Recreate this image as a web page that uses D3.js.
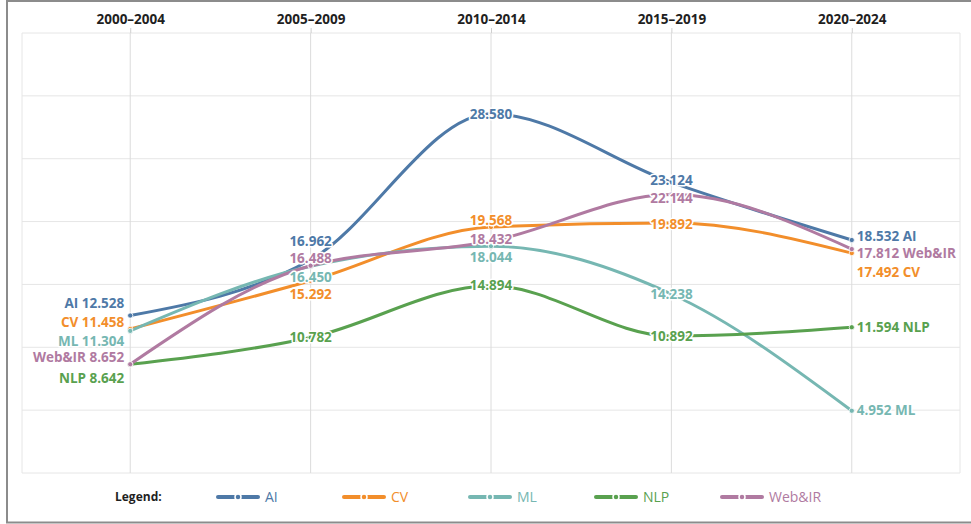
<!DOCTYPE html>
<html>
<head>
<meta charset="utf-8">
<script src="https://cdn.jsdelivr.net/npm/d3@7"></script>
<style>
  html, body { margin: 0; padding: 0; background: #fff; }
  svg { display: block; font-family: "Open Sans", "Noto Sans", sans-serif; }
</style>
</head>
<body>
<svg id="chart" width="971" height="524"></svg>
<script>
// ---- data ----
const periods = ["2000–2004", "2005–2009", "2010–2014", "2015–2019", "2020–2024"];
const seriesNames = ["AI", "CV", "ML", "NLP", "Web&IR"];
const aiValues    = [12.528, 16.962, 28.580, 23.124, 18.532];
const cvValues    = [11.458, 15.292, 19.568, 19.892, 17.492];
const mlValues    = [11.304, 16.450, 18.044, 14.238, 4.952];
const nlpValues   = [8.642, 10.782, 14.894, 10.892, 11.594];
const webirValues = [8.652, 16.488, 18.432, 22.144, 17.812];
const yTicks = [0, 5, 10, 15, 20, 25, 30, 35];

// ---- styling / label placement (not data) ----
const colors = ["#4e79a7", "#f28e2b", "#76b7b2", "#59a14f", "#b07aa1"];
// vertical offsets of value labels (px) per series per period
const labelDy = [
  [-12, -18, 1, -2, -4],
  [-7, 14, -7, 1, 19],
  [10, 11, 11, 0, 0],
  [14, 0, 0, 0, 0],
  [-7, -7, -2, 4, 4]
];

const seriesValues = [aiValues, cvValues, mlValues, nlpValues, webirValues];
const series = seriesNames.map((name, i) => ({
  name, color: colors[i], values: seriesValues[i], dy: labelDy[i]
}));

const svg = d3.select("#chart");
const W = 971, H = 524;
const plot = { left: 22, right: 960, top: 33, bottom: 473 };

// outer frame
svg.append("path")
  .attr("d", `M${W},1 H7 V${H - 1.5} H${W}`)
  .attr("fill", "none").attr("stroke", "#8c8c8c").attr("stroke-width", 2);

const x = d3.scalePoint().domain(periods).range([plot.left, plot.right]).padding(0.6);
const y = d3.scaleLinear().domain([0, 35]).range([plot.bottom, plot.top]);

// horizontal gridlines
svg.append("g").selectAll("line").data(yTicks).join("line")
  .attr("x1", plot.left).attr("x2", plot.right)
  .attr("y1", d => y(d)).attr("y2", d => y(d))
  .attr("stroke", "#e6e6e6").attr("stroke-width", 1);
// side frame lines
svg.append("line").attr("x1", plot.left).attr("x2", plot.left)
  .attr("y1", plot.top).attr("y2", plot.bottom).attr("stroke", "#e6e6e6");
svg.append("line").attr("x1", plot.right).attr("x2", plot.right)
  .attr("y1", plot.top).attr("y2", plot.bottom).attr("stroke", "#e6e6e6");

// vertical gridlines
svg.append("g").selectAll("line").data(periods).join("line")
  .attr("x1", d => x(d)).attr("x2", d => x(d))
  .attr("y1", plot.top).attr("y2", plot.bottom)
  .attr("stroke", "#dcdcdc").attr("stroke-width", 1);

// top axis
const topAxis = d3.axisTop(x).tickSize(5).tickSizeOuter(0);
const axG = svg.append("g").attr("transform", `translate(0,${plot.top})`).call(topAxis);
axG.select(".domain").remove();
axG.selectAll(".tick line").attr("stroke", "#cfcfcf");
axG.selectAll(".tick text")
  .attr("y", -9)
  .attr("fill", "#1f1f1f")
  .style("font-size", "13.5px")
  .style("font-weight", "700")
  .style("font-family", "'Open Sans', 'Noto Sans', sans-serif");

// lines
const line = d3.line()
  .x((d, i) => x(periods[i]))
  .y(d => y(d))
  .curve(d3.curveMonotoneX);

const lineG = svg.append("g");
series.forEach(s => {
  lineG.append("path")
    .attr("d", line(s.values))
    .attr("fill", "none")
    .attr("stroke", s.color)
    .attr("stroke-width", 3)
    .attr("stroke-linecap", "round");
});

// points
series.forEach(s => {
  lineG.append("g").selectAll("circle").data(s.values).join("circle")
    .attr("cx", (d, i) => x(periods[i]))
    .attr("cy", d => y(d))
    .attr("r", 2.6)
    .attr("fill", s.color)
    .attr("stroke", "#fff")
    .attr("stroke-width", 0.8);
});

// labels
const fmt = d3.format(".3f");
const labelG = svg.append("g");
series.forEach(s => {
  s.values.forEach((v, i) => {
    const last = periods.length - 1;
    let txt, anchor, dx;
    if (i === 0) { txt = `${s.name} ${fmt(v)}`; anchor = "end"; dx = -6; }
    else if (i === last) { txt = `${fmt(v)} ${s.name}`; anchor = "start"; dx = 5; }
    else { txt = fmt(v); anchor = "middle"; dx = 0; }
    labelG.append("text")
      .attr("x", x(periods[i]) + dx)
      .attr("y", y(v) + s.dy[i])
      .attr("dy", "0.35em")
      .attr("text-anchor", anchor)
      .attr("fill", s.color)
      .attr("stroke", "#fff")
      .attr("stroke-width", 3)
      .attr("stroke-linejoin", "round")
      .attr("paint-order", "stroke")
      .style("font-size", "13.5px")
      .style("font-weight", "700")
      .text(txt);
  });
});

// legend
const legY = 497;
svg.append("text")
  .attr("x", 115).attr("y", legY).attr("dy", "0.35em")
  .attr("fill", "#1f1f1f")
  .style("font-size", "12px").style("font-weight", "700")
  .text("Legend:");
const leg = svg.append("g").selectAll("g").data(series).join("g")
  .attr("transform", (d, i) => `translate(${218 + i * 126},${legY})`);
leg.append("line")
  .attr("x1", 0).attr("x2", 40).attr("y1", 0).attr("y2", 0)
  .attr("stroke", d => d.color).attr("stroke-width", 4).attr("stroke-linecap", "round");
leg.append("circle")
  .attr("cx", 20).attr("cy", 0).attr("r", 3)
  .attr("fill", d => d.color).attr("stroke", "#fff").attr("stroke-width", 1.5);
leg.append("text")
  .attr("x", 47).attr("y", 0).attr("dy", "0.35em")
  .attr("fill", d => d.color)
  .style("font-size", "14px")
  .text(d => d.name);
</script>
</body>
</html>
